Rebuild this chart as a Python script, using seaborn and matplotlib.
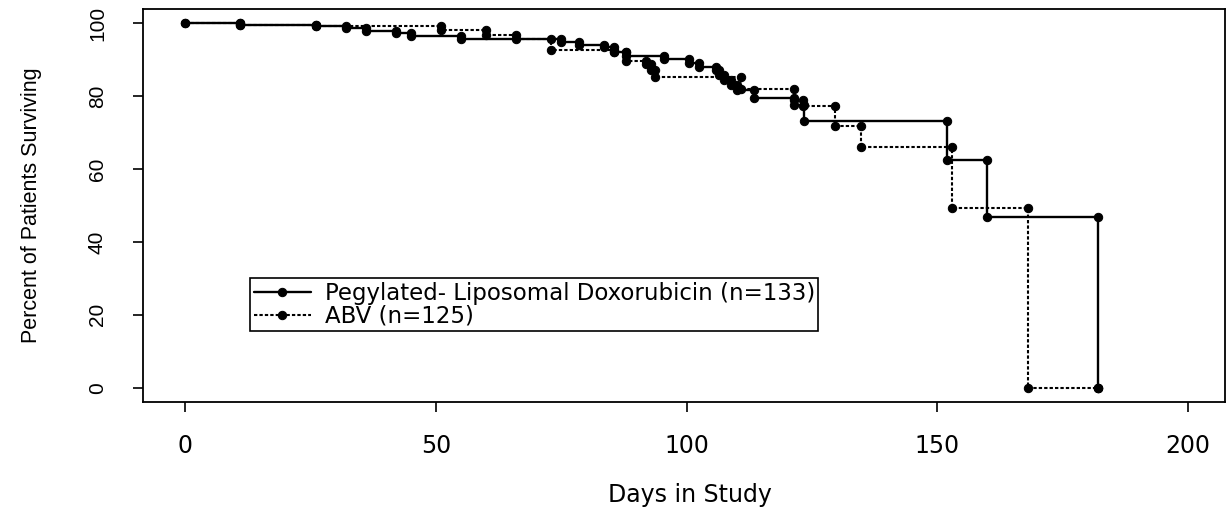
import numpy as np
import pandas as pd
import matplotlib
matplotlib.use("Agg")
import matplotlib.pyplot as plt
import seaborn as sns

# Kaplan-Meier style step data (event times and survival % after event)
pld_days = [0, 11, 26, 32, 36, 42, 45, 55, 75, 78.5, 83.5, 85.5, 88, 95.5, 100.4,
            102.4, 105.8, 106.5, 107.4, 108.8, 110, 113.5, 121.5, 123.5, 152, 160, 182]
pld_surv = [100, 99.6, 99.2, 98.8, 97.9, 97.3, 96.4, 95.6, 94.9, 93.9, 93.4, 92.2, 91.0,
            90.2, 89.0, 88.0, 87.1, 85.8, 84.4, 83.0, 81.8, 79.4, 77.5, 73.2, 62.5, 46.8, 0]

abv_days = [0, 11, 26, 51, 60, 66, 73, 85.5, 88, 92, 93, 93.7, 110.8, 121.5, 123.3,
            129.7, 134.7, 153, 168, 182]
abv_surv = [100, 99.6, 99.2, 98.1, 96.9, 95.6, 92.7, 92.0, 89.6, 88.9, 87.1, 85.3, 82.0,
            79.0, 77.3, 71.8, 66.0, 49.3, 0, 0]

labels = ["Pegylated- Liposomal Doxorubicin (n=133)", "ABV (n=125)"]
x_ticks = [0, 50, 100, 150, 200]
y_ticks = [0, 20, 40, 60, 80, 100]


def step_vertices(days, surv):
    xs, ys = [days[0]], [surv[0]]
    for i in range(1, len(days)):
        xs += [days[i], days[i]]
        ys += [surv[i - 1], surv[i]]
    return xs, ys


sns.set_theme(style="ticks")
plt.rcParams['font.family'] = ['DejaVu Sans']
plt.rcParams['text.color'] = 'black'
plt.rcParams['axes.labelcolor'] = 'black'
plt.rcParams['xtick.color'] = 'black'
plt.rcParams['ytick.color'] = 'black'

fig = plt.figure(figsize=(12.3, 5.07), dpi=100)
ax = fig.add_axes([0.1163, 0.2071, 0.8797, 0.7751])

px, py = step_vertices(pld_days, pld_surv)
df1 = pd.DataFrame({"x": px, "y": py})
sns.lineplot(data=df1, x="x", y="y", ax=ax, sort=False, estimator=None,
             color="black", linewidth=1.7, marker="o", markersize=6,
             markeredgecolor="black", label=labels[0])

qx, qy = step_vertices(abv_days, abv_surv)
df2 = pd.DataFrame({"x": qx, "y": qy})
sns.lineplot(data=df2, x="x", y="y", ax=ax, sort=False, estimator=None,
             color="black", linewidth=1.5, linestyle=(0, (1.6, 1.0)), marker="o",
             markersize=6, markeredgecolor="black", label=labels[1])

ax.set_xlim(-8.4, 207.4)
ax.set_ylim(-3.9, 103.9)
ax.set_xticks(x_ticks)
ax.set_yticks(y_ticks)
ax.set_xticklabels([str(t) for t in x_ticks], fontsize=17, family="DejaVu Sans")
ax.set_yticklabels([str(t) for t in y_ticks], fontsize=15, rotation=90, va="center",
                   family="Liberation Sans")
ax.tick_params(axis="both", direction="out", length=7, width=1.2, color="black")
ax.tick_params(axis="x", pad=16)
ax.tick_params(axis="y", pad=19)
for s in ax.spines.values():
    s.set_visible(True)
    s.set_color("black")
    s.set_linewidth(1.3)

ax.set_xlabel("Days in Study", fontsize=17, family="DejaVu Sans")
ax.xaxis.set_label_coords(0.505, -0.205)
ax.set_ylabel("Percent of Patients Surviving", fontsize=15.5, family="Liberation Sans")
ax.yaxis.set_label_coords(-0.093, 0.5)

leg = ax.legend(loc="upper left", bbox_to_anchor=(0.099, 0.315), frameon=True,
                fancybox=False, prop={"family": "DejaVu Sans", "size": 16.5},
                handlelength=2.5, handletextpad=0.6,
                borderpad=0.15, labelspacing=0.0, borderaxespad=0)
leg.get_frame().set_edgecolor("black")
leg.get_frame().set_linewidth(1.2)
leg.get_frame().set_alpha(1)

fig.savefig("out.png", dpi=100, facecolor="white")
